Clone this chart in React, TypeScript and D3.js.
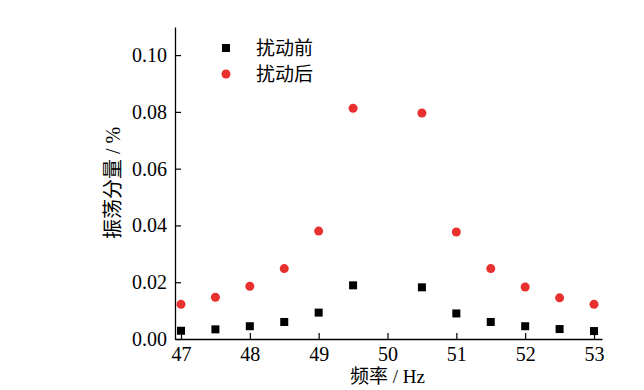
import React, { useRef, useEffect } from 'react';
import { select, scaleLinear, axisBottom, axisLeft, range } from 'd3';

const freqs = [47, 47.5, 48, 48.5, 49, 49.5, 50.5, 51, 51.5, 52, 52.5, 53];
const before = [0.0029, 0.0034, 0.0045, 0.006, 0.0093, 0.0189, 0.0182, 0.009, 0.006, 0.0045, 0.0035, 0.0028];
const after = [0.0122, 0.0147, 0.0186, 0.0248, 0.038, 0.0813, 0.0796, 0.0377, 0.0248, 0.0183, 0.0145, 0.0122];
const xTicks = [47, 48, 49, 50, 51, 52, 53];
const yTicks = [0, 0.02, 0.04, 0.06, 0.08, 0.1];
const legendLabels = ['扰动前', '扰动后'];

const W = 644;
const H = 390;
const red = '#e8302f';
const serif = '"Liberation Serif", "Times New Roman", serif';
const cjk = '"Noto Sans CJK SC", sans-serif';

const Chart = () => {
  const svgRef = useRef<SVGSVGElement>(null);

  useEffect(() => {
    const svg = select(svgRef.current);
    svg.selectAll('*').remove();

    const left = 175, right = 602, top = 27, bottom = 339;
    const x = scaleLinear().domain([46.913, 53.116]).range([left, right]);
    const y = scaleLinear().domain([0, 0.1099]).range([bottom, top]);

    // minor ticks
    const xa = svg.append('g').attr('transform', `translate(0,${bottom})`);
    xa.call(axisBottom(x).tickValues(range(47, 53.01, 0.5)).tickSize(-4).tickFormat(() => ''));
    xa.call(
      axisBottom(x).tickValues(xTicks).tickSize(-6).tickSizeOuter(0).tickPadding(8)
        .tickFormat((d) => String(d))
    );
    const ya = svg.append('g').attr('transform', `translate(${left},0)`);
    ya.call(axisLeft(y).tickValues(range(0, 0.105, 0.01)).tickSize(-4).tickFormat(() => ''));
    ya.call(
      axisLeft(y).tickValues(yTicks).tickSize(-6).tickSizeOuter(0).tickPadding(8)
        .tickFormat((d) => (d as number).toFixed(2))
    );
    svg.selectAll('.domain').attr('stroke', '#000').attr('stroke-width', 1.3);
    svg.selectAll('.tick line').attr('stroke', '#000').attr('stroke-width', 1.2);
    svg.selectAll('.tick text').attr('font-family', serif).attr('font-size', 20).attr('fill', '#000');
    xa.selectAll('.tick text').attr('dy', '0.72em');

    // points
    svg.append('g').selectAll('rect').data(freqs).join('rect')
      .attr('x', (d) => x(d) - 4).attr('y', (d, i) => y(before[i]) - 4)
      .attr('width', 8).attr('height', 8).attr('fill', '#000');
    svg.append('g').selectAll('circle').data(freqs).join('circle')
      .attr('cx', (d) => x(d)).attr('cy', (d, i) => y(after[i]))
      .attr('r', 4.5).attr('fill', red);

    // legend
    const lg = svg.append('g');
    lg.append('rect').attr('x', 222).attr('y', 44).attr('width', 8).attr('height', 8).attr('fill', '#000');
    lg.append('circle').attr('cx', 226).attr('cy', 74).attr('r', 4.5).attr('fill', red);
    legendLabels.forEach((t, i) => {
      lg.append('text').attr('x', 256).attr('y', 48 + i * 26).attr('dy', '0.35em')
        .attr('font-family', cjk).attr('font-size', 19).attr('fill', '#000').text(t);
    });

    // axis titles
    svg.append('text').attr('x', (x(47) + x(53)) / 2).attr('y', 383)
      .attr('text-anchor', 'middle').attr('font-size', 19).attr('fill', '#000')
      .html(`<tspan font-family='${cjk}'>频率</tspan><tspan font-family='${serif}'> / Hz</tspan>`);
    svg.append('text').attr('transform', `translate(120,${(top + bottom) / 2}) rotate(-90)`)
      .attr('text-anchor', 'middle').attr('font-size', 20).attr('fill', '#000')
      .html(`<tspan font-family='${cjk}'>振荡分量</tspan><tspan font-family='${serif}'> / %</tspan>`);
  }, []);

  return <svg ref={svgRef} width={W} height={H} style={{ display: 'block' }}></svg>;
};

export default function App() {
  return (
    <div style={{ position: 'absolute', left: 0, top: 0, background: '#fff' }}>
      <Chart />
    </div>
  );
}
